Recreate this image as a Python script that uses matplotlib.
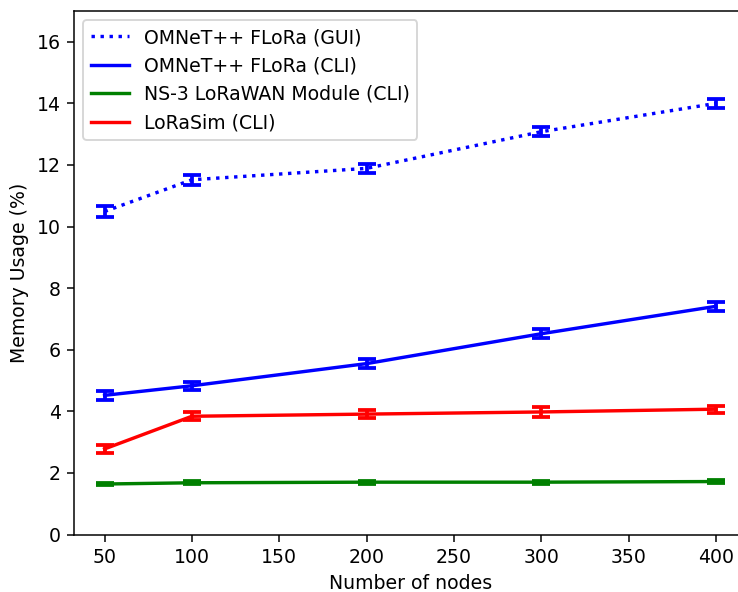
import matplotlib
matplotlib.use("Agg")
import matplotlib.pyplot as plt

nodes = [50, 100, 200, 300, 400]

gui_mean = [10.49, 11.52, 11.89, 13.08, 14.00]
gui_err = [0.17, 0.17, 0.14, 0.14, 0.15]

cli_mean = [4.52, 4.83, 5.55, 6.52, 7.41]
cli_err = [0.15, 0.13, 0.15, 0.14, 0.14]

ns3_mean = [1.64, 1.68, 1.70, 1.70, 1.72]
ns3_err = [0.04, 0.05, 0.05, 0.05, 0.04]

lorasim_mean = [2.78, 3.84, 3.91, 3.98, 4.07]
lorasim_err = [0.12, 0.13, 0.13, 0.16, 0.11]

DPI = 136
fig = plt.figure(figsize=(738 / DPI, 592 / DPI), dpi=DPI)
# the original figure is cut off on the right, so the axes run past the canvas
ax = fig.add_axes([0.1003, 0.0971, 0.9112, 0.8843])

style = dict(capsize=5, capthick=2, linewidth=1.8, elinewidth=2)
series = [
    (gui_mean, gui_err, "blue", ":", "OMNeT++ FLoRa (GUI)"),
    (cli_mean, cli_err, "blue", "-", "OMNeT++ FLoRa (CLI)"),
    (ns3_mean, ns3_err, "green", "-", "NS-3 LoRaWAN Module (CLI)"),
    (lorasim_mean, lorasim_err, "red", "-", "LoRaSim (CLI)"),
]
handles, labels = [], []
for mean, err, color, ls, label in series:
    c = ax.errorbar(nodes, mean, yerr=err, color=color, linestyle=ls, **style)
    handles.append(c[0])
    labels.append(label)

ax.set_ylim(0, 17)
ax.set_yticks(range(0, 17, 2))
ax.set_xlabel("Number of nodes")
ax.set_ylabel("Memory Usage (%)")
ax.spines["right"].set_visible(False)
ax.legend(handles, labels, loc="upper left")

fig.savefig("out.png", dpi=DPI)
